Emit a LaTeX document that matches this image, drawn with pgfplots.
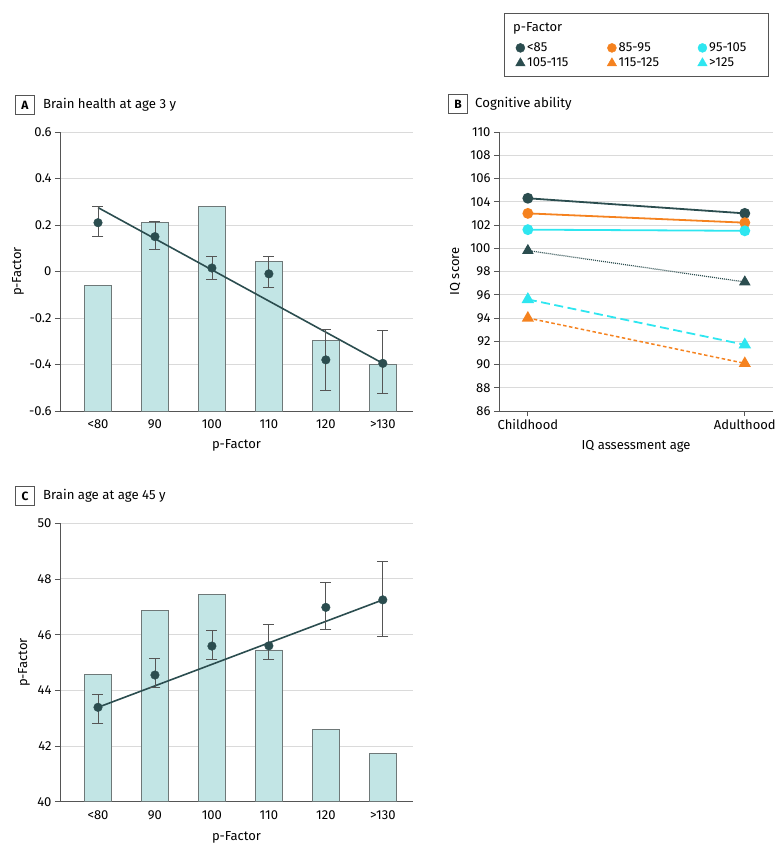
\documentclass[border=0pt]{standalone}
\usepackage{fontspec}
\setmainfont{Fira Sans}
\usepackage{pgfplots}
\usepackage{pgfplotstable}
\pgfplotsset{compat=1.18}
\definecolor{dk}{HTML}{2B4D4F}
\definecolor{org}{HTML}{F5821F}
\definecolor{cyn}{HTML}{2EE6F0}
\definecolor{barfill}{HTML}{C2E5E5}
\definecolor{baredge}{HTML}{6E7878}
\definecolor{gridc}{HTML}{DADADA}
\definecolor{axc}{HTML}{555555}
\newcommand{\lf}{\fontsize{13}{15}\selectfont}

\pgfplotstableread{
x bar y lo hi
0 -0.06 0.21 0.15 0.28
1 0.21 0.15 0.095 0.215
2 0.28 0.015 -0.035 0.065
3 0.044 -0.01 -0.07 0.065
4 -0.295 -0.38 -0.51 -0.25
5 -0.40 -0.395 -0.525 -0.255
}\dataA
\pgfplotstableread{
x bar y lo hi
0 44.57 43.39 42.81 43.87
1 46.87 44.55 44.10 45.13
2 47.45 45.59 45.11 46.14
3 45.45 45.60 45.11 46.37
4 42.59 46.98 46.19 47.88
5 41.74 47.25 45.92 48.63
}\dataC

\pgfplotsset{
  base/.style={scale only axis, anchor=south west,
    font=\fontsize{12.5}{15}\selectfont,
    tick label style={font=\fontsize{13}{15}\selectfont},
    label style={font=\fontsize{13}{15}\selectfont},
    /pgf/number format/assume math mode=true,
    axis x line*=bottom, axis y line*=left,
    axis line style={draw=axc, line width=0.8pt},
    ymajorgrids, grid style={draw=gridc, line width=1pt},
    tick style={draw=axc, line width=0.8pt},
    major tick length=5pt, tick align=outside,
    yticklabel style={/pgf/number format/fixed, /pgf/number format/precision=1},
  },
  cat/.style={base, width=353pt, height=279pt, xmin=-0.667, xmax=5.53,
    xtick={0,...,5}, xticklabels={<80,90,100,110,120,>130},
    major x tick style={draw=none},
    xlabel={p-Factor}, ylabel={p-Factor}},
  hid/.style={scale only axis, anchor=south west, hide axis, width=353pt, height=279pt, xmin=-0.667, xmax=5.53},
  bars/.style={ybar, bar width=0.47, fill=barfill, draw=baredge, line width=0.8pt},
  pts/.style={only marks, mark=*, mark size=4.3pt, color=dk,
    error bars/.cd, y dir=both, y explicit,
    error bar style={draw=axc, line width=0.8pt},
    error mark options={draw=axc, line width=0.8pt, mark size=5.5pt, rotate=90}},
}

\begin{document}
\begin{tikzpicture}
\path[use as bounding box] (0pt,0pt) rectangle (780pt,-856pt);

% ---------- Panel A ----------
\begin{axis}[cat, at={(60pt,-411pt)}, ymin=-0.6, ymax=0.6, ytick={-0.6,-0.4,-0.2,0,0.2,0.4,0.6},
  yticklabels={-0.6,-0.4,-0.2,0,0.2,0.4,0.6},
  xlabel style={at={(axis description cs:0.5,-0.122)}, anchor=center},
  ylabel style={at={(axis description cs:-0.119,0.5)}, anchor=center}]
\end{axis}
\begin{axis}[hid, at={(60pt,-411pt)}, ymin=0, ymax=1.2]
\addplot[bars] table[x=x, y expr=\thisrow{bar}+0.6] {\dataA};
\end{axis}
\begin{axis}[hid, at={(60pt,-411pt)}, ymin=-0.6, ymax=0.6]
\addplot[dk, line width=1.6pt] coordinates {(0,0.275) (5,-0.395)};
\addplot[pts] table[x=x, y=y, y error plus expr=\thisrow{hi}-\thisrow{y}, y error minus expr=\thisrow{y}-\thisrow{lo}] {\dataA};
\end{axis}

% ---------- Panel C ----------
\begin{axis}[cat, at={(60pt,-801.7pt)}, height=278.4pt, ymin=40, ymax=50, ytick={40,42,...,50},
  xlabel style={at={(axis description cs:0.5,-0.13)}, anchor=center},
  ylabel style={at={(axis description cs:-0.102,0.5)}, anchor=center}]
\end{axis}
\begin{axis}[hid, at={(60pt,-801.7pt)}, height=278.4pt, ymin=0, ymax=10]
\addplot[bars] table[x=x, y expr=\thisrow{bar}-40] {\dataC};
\end{axis}
\begin{axis}[hid, at={(60pt,-801.7pt)}, height=278.4pt, ymin=40, ymax=50]
\addplot[dk, line width=1.6pt] coordinates {(0,43.39) (5,47.25)};
\addplot[pts] table[x=x, y=y, y error plus expr=\thisrow{hi}-\thisrow{y}, y error minus expr=\thisrow{y}-\thisrow{lo}] {\dataC};
\end{axis}

% ---------- Panel B ----------
\begin{axis}[base, at={(499pt,-411pt)}, width=274pt, height=279pt,
  xmin=-0.133, xmax=1.13, ymin=86, ymax=110, ytick={86,88,...,110},
  xtick={0,1}, xticklabels={Childhood,Adulthood},
  xlabel={IQ assessment age}, ylabel={IQ score},
  xlabel style={at={(axis description cs:0.5,-0.128)}, anchor=center},
  ylabel style={at={(axis description cs:-0.16,0.5)}, anchor=center},
  legend columns=3,
  legend style={draw=none, fill=none, at={(axis description cs:0.049,1.335)}, anchor=north west,
    font=\lf, row sep=1pt,
    /tikz/every even column/.append style={column sep=10pt}},
  legend cell align=left]
\addlegendimage{only marks, mark=*, mark size=4.5pt, color=dk}
\addlegendentry{\makebox[68pt][l]{\lf <85}}
\addlegendimage{only marks, mark=*, mark size=4.5pt, color=org}
\addlegendentry{\makebox[67pt][l]{\lf 85-95}}
\addlegendimage{only marks, mark=*, mark size=4.5pt, color=cyn}
\addlegendentry{\lf 95-105}
\addlegendimage{only marks, mark=triangle*, mark size=5.5pt, color=dk}
\addlegendentry{\makebox[68pt][l]{\lf 105-115}}
\addlegendimage{only marks, mark=triangle*, mark size=5.5pt, color=org}
\addlegendentry{\makebox[67pt][l]{\lf 115-125}}
\addlegendimage{only marks, mark=triangle*, mark size=5.5pt, color=cyn}
\addlegendentry{\lf >125}
\addplot[forget plot, dk, line width=1.8pt, mark=*, mark size=4.5pt] coordinates {(0,104.3) (1,103.0)};
\addplot[forget plot, org, line width=1.8pt, mark=*, mark size=4.5pt] coordinates {(0,103.0) (1,102.2)};
\addplot[forget plot, cyn, line width=1.8pt, mark=*, mark size=4.5pt] coordinates {(0,101.6) (1,101.5)};
\addplot[forget plot, dk, line width=1.2pt, dash pattern=on 1pt off 1pt, mark=triangle*, mark size=5.5pt, mark options={solid}] coordinates {(0,99.8) (1,97.1)};
\addplot[forget plot, org, line width=1.5pt, dash pattern=on 3.5pt off 2.5pt, mark=triangle*, mark size=5.5pt, mark options={solid}] coordinates {(0,94.0) (1,90.1)};
\addplot[forget plot, cyn, line width=1.8pt, dash pattern=on 9pt off 4.5pt, mark=triangle*, mark size=5.5pt, mark options={solid}] coordinates {(0,95.6) (1,91.7)};
\end{axis}

% legend frame and title
\draw[axc, line width=0.8pt] (504pt,-13pt) rectangle (768pt,-76pt);
\node[anchor=west, font=\lf, inner sep=0] at (513pt,-28pt) {p-Factor};

% panel titles
\node[draw=axc, line width=0.8pt, minimum size=19pt, inner sep=0, font=\fontsize{12}{14}\selectfont\bfseries] at (25pt,-105pt) {A};
\node[anchor=west, inner sep=0, font=\fontsize{13.2}{16}\selectfont] at (43pt,-105pt) {Brain health at age 3 y};
\node[draw=axc, line width=0.8pt, minimum size=19pt, inner sep=0, font=\fontsize{12}{14}\selectfont\bfseries] at (458pt,-104pt) {B};
\node[anchor=west, inner sep=0, font=\fontsize{13.2}{16}\selectfont] at (475pt,-104pt) {Cognitive ability};
\node[draw=axc, line width=0.8pt, minimum size=19pt, inner sep=0, font=\fontsize{12}{14}\selectfont\bfseries] at (25pt,-496pt) {C};
\node[anchor=west, inner sep=0, font=\fontsize{13.2}{16}\selectfont] at (43pt,-496pt) {Brain age at age 45 y};
\end{tikzpicture}
\end{document}
